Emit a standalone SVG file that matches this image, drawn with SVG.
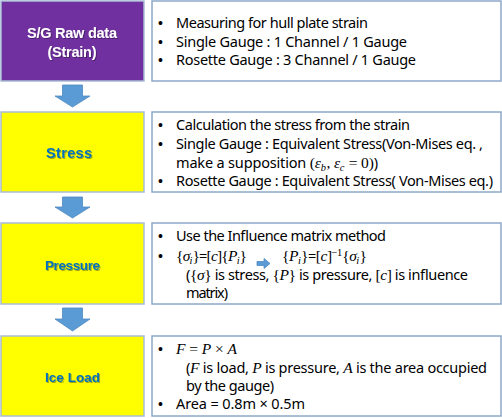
<svg xmlns="http://www.w3.org/2000/svg" width="502" height="418" viewBox="0 0 502 418">
<style>
.lbox{stroke:#A9BCD6;stroke-width:1.5}
.rbox{fill:#ffffff;stroke:#8EA8C9;stroke-width:1.5}
.t{font-family:"Noto Sans","Liberation Sans",Arial,sans-serif;font-size:14.5px;fill:#000}
.bu{font-family:"Liberation Sans",Arial,sans-serif;font-size:14px;fill:#000}
.m{font-family:"Liberation Serif","Times New Roman",serif;font-style:italic;font-size:15.5px}
.n{font-family:"Liberation Serif","Times New Roman",serif;font-style:normal;font-size:15.5px}
.sb{font-size:10.5px}
.lab{font-family:"Liberation Sans",Arial,sans-serif;font-size:14.5px;font-weight:bold;text-anchor:middle}
.sm{font-size:13.5px}
.w{fill:#ffffff}
.b{fill:#0070C0}
.arr{fill:#5B9BD5;stroke:#4F89C0;stroke-width:0.8}
</style>
<defs>
<filter id="sh" x="-10%" y="-20%" width="130%" height="150%">
<feDropShadow dx="1" dy="1" stdDeviation="0.6" flood-color="#000" flood-opacity="0.35"/>
</filter>
</defs>

<g id="node-raw">
<rect class="lbox" x="1" y="1" width="143" height="80" fill="#7030A0"/>
<text class="lab w" x="72" y="38" filter="url(#sh)" textLength="90">S/G Raw data</text>
<text class="lab w" x="72" y="57" filter="url(#sh)" textLength="49">(Strain)</text>
</g>
<g id="desc-raw">
<rect class="rbox" x="152" y="1" width="349" height="80"/>
<text class="bu" x="158" y="28">•</text><text class="t" x="176" y="28" textLength="192">Measuring for hull plate strain</text>
<text class="bu" x="158" y="46.5">•</text><text class="t" x="176" y="46.5" textLength="231">Single Gauge : 1 Channel / 1 Gauge</text>
<text class="bu" x="158" y="65">•</text><text class="t" x="176" y="65" textLength="240">Rosette Gauge : 3 Channel / 1 Gauge</text>
</g>

<g id="node-stress">
<rect class="lbox" x="1" y="112" width="143" height="80" fill="#FFFF00"/>
<text class="lab b" x="69" y="158" filter="url(#sh)" textLength="46">Stress</text>
</g>
<g id="desc-stress">
<rect class="rbox" x="152" y="112" width="349" height="80"/>
<text class="bu" x="158" y="130">•</text><text class="t" x="176" y="130" textLength="234">Calculation the stress from the strain</text>
<text class="bu" x="158" y="149">•</text><text class="t" x="176" y="149" textLength="307">Single Gauge : Equivalent Stress(Von-Mises eq. ,</text>
<text class="t" x="176" y="168" textLength="202">make a supposition <tspan class="n">(</tspan><tspan class="m">ε</tspan><tspan class="m sb" dy="3">b</tspan><tspan class="n" dy="-3" dx="0.8">, </tspan><tspan class="m">ε</tspan><tspan class="m sb" dy="3">c</tspan><tspan class="n" dy="-3" dx="0.8"> = 0)</tspan>)</text>
<text class="bu" x="158" y="186">•</text><text class="t" x="176" y="186" textLength="317">Rosette Gauge : Equivalent Stress( Von-Mises eq.)</text>
</g>

<g id="node-pressure">
<rect class="lbox" x="1" y="223" width="143" height="81" fill="#FFFF00"/>
<text class="lab b sm" x="72.5" y="270" filter="url(#sh)" textLength="55">Pressure</text>
</g>
<g id="desc-pressure">
<rect class="rbox" x="152" y="223" width="349" height="81"/>
<text class="bu" x="158" y="241">•</text><text class="t" x="176" y="241" textLength="210">Use the Influence matrix method</text>
<text class="bu" x="158" y="261">•</text><text class="t" x="176" y="261" textLength="71"><tspan class="n">{</tspan><tspan class="m">σ</tspan><tspan class="m sb" dy="3">i</tspan><tspan class="n" dy="-3" dx="0.8">}</tspan>=<tspan class="n">[</tspan><tspan class="m">c</tspan><tspan class="n">]{</tspan><tspan class="m">P</tspan><tspan class="m sb" dy="3">i</tspan><tspan class="n" dy="-3" dx="0.8">}</tspan></text>
<path class="arr" d="M257,261.5 H264 V258.5 L270,263.5 L264,268.5 V265.5 H257 Z"/>
<text class="t" x="282" y="261" textLength="85"><tspan class="n">{</tspan><tspan class="m">P</tspan><tspan class="m sb" dy="3">i</tspan><tspan class="n" dy="-3" dx="0.8">}</tspan>=<tspan class="n">[</tspan><tspan class="m">c</tspan><tspan class="n">]</tspan><tspan class="n sb" dy="-5">−1</tspan><tspan class="n" dy="5" dx="0.5">{</tspan><tspan class="m">σ</tspan><tspan class="m sb" dy="3">i</tspan><tspan class="n" dy="-3" dx="0.8">}</tspan></text>
<text class="t" x="186" y="280" textLength="282">(<tspan class="n">{</tspan><tspan class="m">σ</tspan><tspan class="n">}</tspan> is stress, <tspan class="n">{</tspan><tspan class="m">P</tspan><tspan class="n">}</tspan> is pressure, <tspan class="n">[</tspan><tspan class="m">c</tspan><tspan class="n">]</tspan> is influence</text>
<text class="t" x="186" y="298" textLength="42">matrix)</text>
</g>

<g id="node-iceload">
<rect class="lbox" x="1" y="336" width="143" height="80" fill="#FFFF00"/>
<text class="lab b sm" x="72.5" y="382" filter="url(#sh)" textLength="55">Ice Load</text>
</g>
<g id="desc-iceload">
<rect class="rbox" x="152" y="336" width="349" height="80"/>
<text class="bu" x="158" y="354">•</text><text class="t" x="176" y="354" textLength="61"><tspan class="m">F</tspan><tspan class="n"> = </tspan><tspan class="m">P</tspan><tspan class="n"> × </tspan><tspan class="m">A</tspan></text>
<text class="t" x="186" y="373" textLength="301">(<tspan class="m">F</tspan> is load, <tspan class="m">P</tspan> is pressure, <tspan class="m">A</tspan> is the area occupied</text>
<text class="t" x="186" y="391" textLength="88">by the gauge)</text>
<text class="bu" x="158" y="409">•</text><text class="t" x="176" y="409" textLength="129">Area = 0.8m × 0.5m</text>
</g>

<g id="connectors">
<path class="arr" d="M62.5,85 H82.5 V96 H90 L72.5,107 L55,96 H62.5 Z"/>
<path class="arr" d="M62.5,197 H82.5 V207 H90 L72.5,218 L55,207 H62.5 Z"/>
<path class="arr" d="M62.5,308 H82.5 V319 H90 L72.5,331 L55,319 H62.5 Z"/>
</g>
</svg>
